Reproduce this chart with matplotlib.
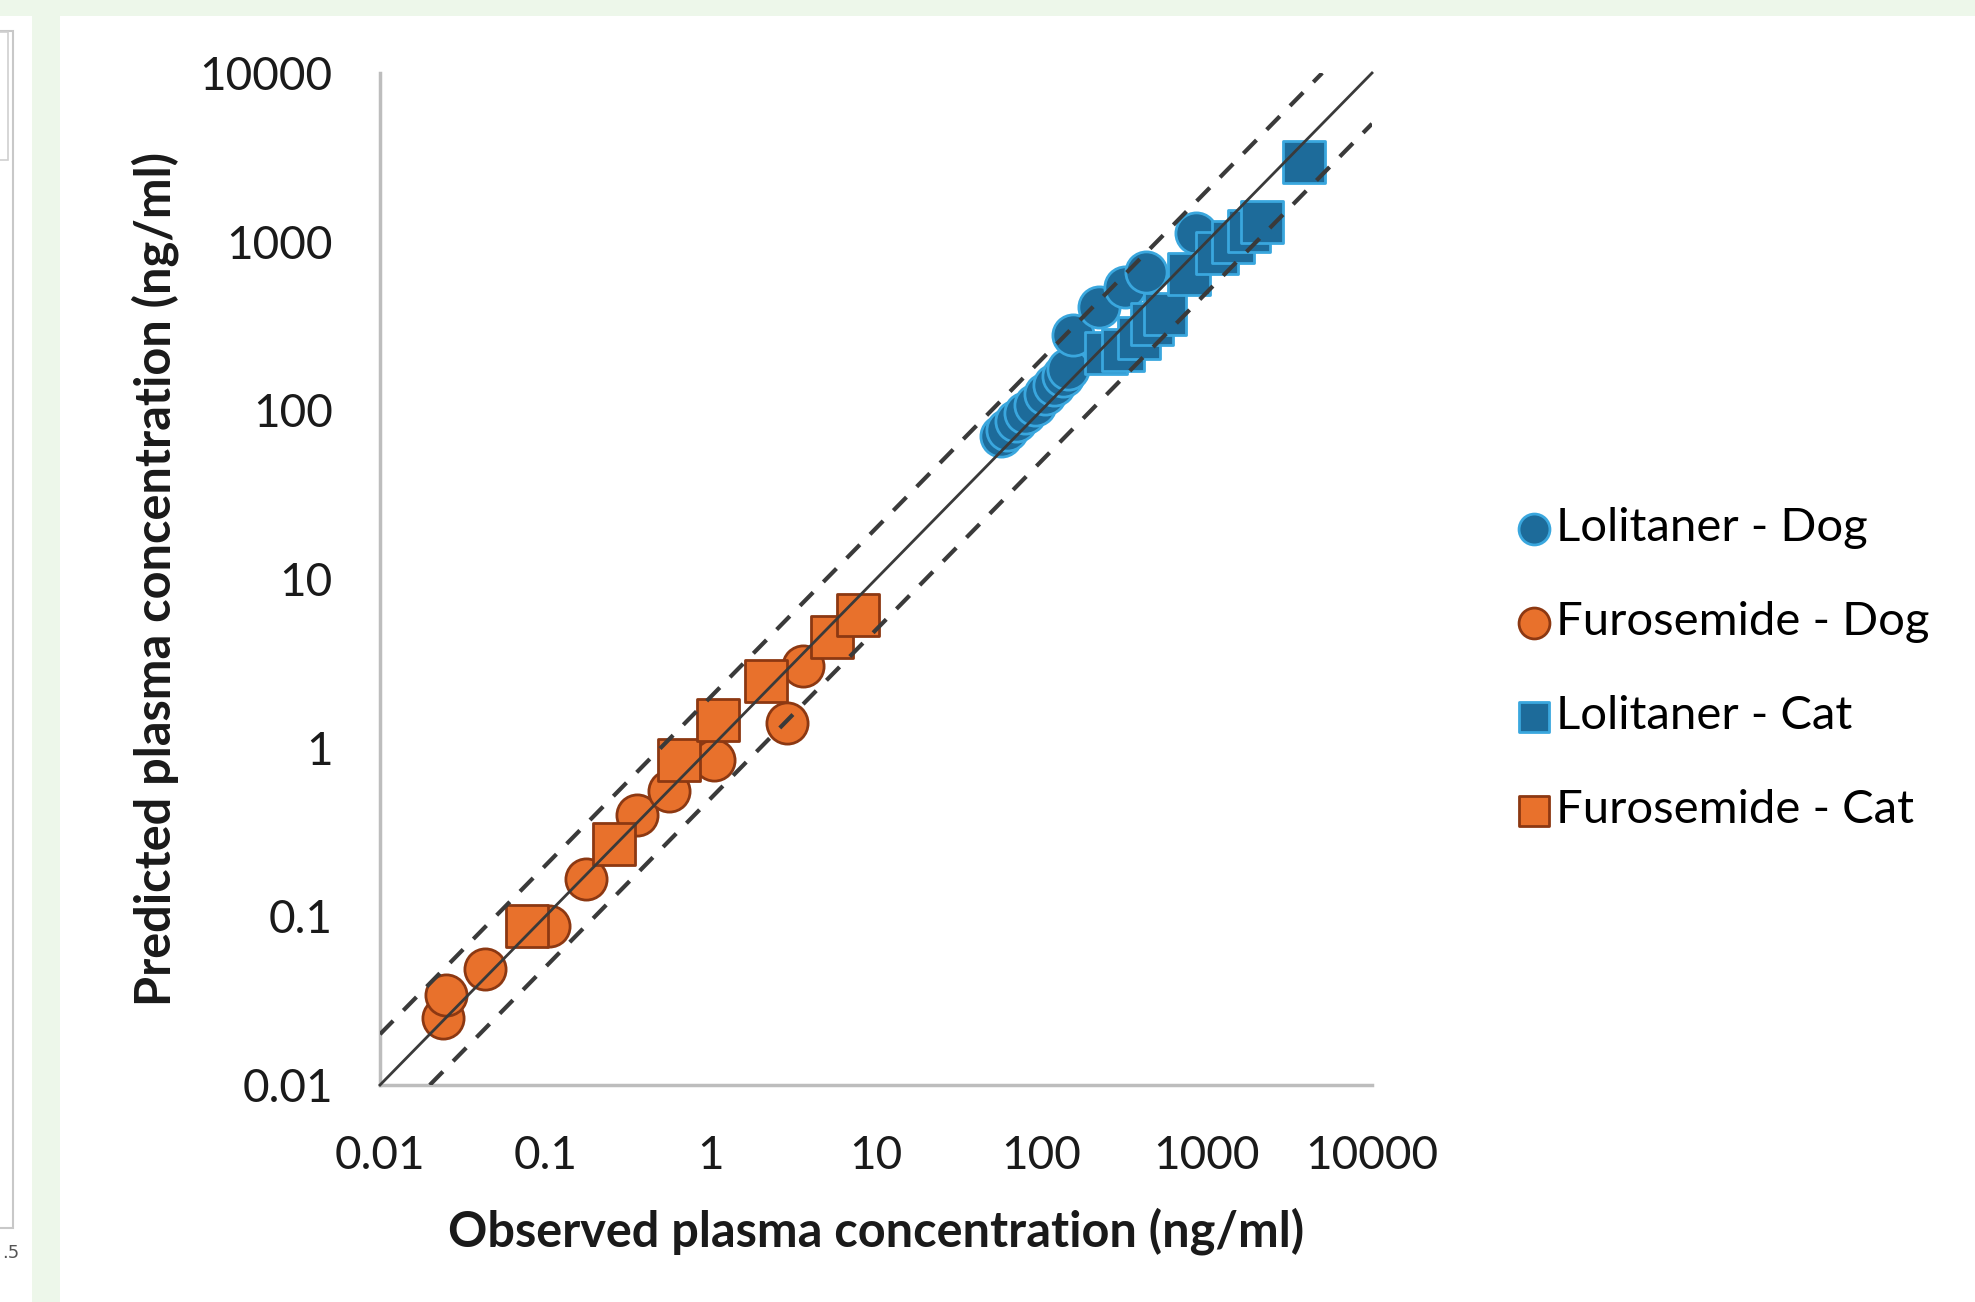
import numpy as np
import matplotlib.pyplot as plt
from matplotlib.patches import Rectangle

# --- data (ng/ml) ---
furo_dog_obs = [0.024, 0.025, 0.043, 0.105, 0.175, 0.36, 0.56, 1.05, 2.9, 3.6]
furo_dog_pred = [0.025, 0.034, 0.049, 0.088, 0.167, 0.40, 0.555, 0.84, 1.40, 3.05]

furo_cat_obs = [0.077, 0.26, 0.64, 1.1, 2.15, 5.4, 7.8]
furo_cat_pred = [0.088, 0.27, 0.84, 1.45, 2.5, 4.55, 6.1]

loli_dog_obs = [57, 62, 70, 80, 92, 105, 120, 135, 145, 156, 222, 320, 430, 860]
loli_dog_pred = [70, 76, 86, 96, 108, 125, 142, 160, 175, 280, 410, 540, 660, 1130]

loli_cat_obs = [245, 310, 390, 470, 560, 780, 1150, 1450, 1800, 2150, 3900]
loli_cat_pred = [220, 228, 270, 325, 375, 640, 860, 1000, 1150, 1300, 2950]

ticks = [0.01, 0.1, 1, 10, 100, 1000, 10000]
tick_labels = ['0.01', '0.1', '1', '10', '100', '1000', '10000']

W, H = 1975, 1302
fig = plt.figure(figsize=(W / 100, H / 100), dpi=100)
fig.patch.set_facecolor('white')

# page background bits around the chart
green = '#edf7ea'
fig.add_artist(Rectangle((0, 1 - 16 / H), 1, 16 / H, transform=fig.transFigure,
                         facecolor=green, edgecolor='none', zorder=0))
fig.add_artist(Rectangle((32 / W, 0), 28 / W, 1, transform=fig.transFigure,
                         facecolor=green, edgecolor='none', zorder=0))
fig.add_artist(Rectangle((-2 / W, 1 - 1228 / H), 15 / W, 1197 / H, transform=fig.transFigure,
                         facecolor='none', edgecolor='#c8c8c8', lw=1.5, zorder=1))
fig.add_artist(Rectangle((-2 / W, 1 - 160 / H), 10 / W, 128 / H, transform=fig.transFigure,
                         facecolor='none', edgecolor='#d0d0d0', lw=1.2, zorder=1))
fig.text(2 / W, 1 - 1253 / H, '.5', fontsize=13, color='#555555', va='center', ha='left',
         family='DejaVu Sans')

ax = fig.add_axes([380 / W, 1 - 1085 / H, 992 / W, 1012 / H])
ax.set_xscale('log')
ax.set_yscale('log')
ax.set_xlim(0.01, 10000)
ax.set_ylim(0.01, 10000)

blue_fill = '#1d6b9a'
blue_edge = '#3aa7de'
orange_fill = '#e8712c'
orange_edge = '#8c3812'
ms = 880

ax.scatter(furo_dog_obs, furo_dog_pred, s=ms, marker='o', facecolor=orange_fill,
           edgecolor=orange_edge, linewidth=2, zorder=2, label='Furosemide - Dog')
ax.scatter(loli_dog_obs, loli_dog_pred, s=ms, marker='o', facecolor=blue_fill,
           edgecolor=blue_edge, linewidth=2, zorder=2, label='Lolitaner - Dog')
ax.scatter(furo_cat_obs, furo_cat_pred, s=ms, marker='s', facecolor=orange_fill,
           edgecolor=orange_edge, linewidth=2, zorder=3, label='Furosemide - Cat')
ax.scatter(loli_cat_obs, loli_cat_pred, s=ms, marker='s', facecolor=blue_fill,
           edgecolor=blue_edge, linewidth=2, zorder=3, label='Lolitaner - Cat')

# line of unity and 2-fold limits
ax.plot([0.01, 10000], [0.01, 10000], color='#3a3a3a', lw=2, zorder=5, clip_on=False)
ax.plot([0.01, 5000], [0.02, 10000], color='#3a3a3a', lw=3, ls=(0, (4.5, 3.5)), zorder=5)
ax.plot([0.02, 10000], [0.01, 5000], color='#3a3a3a', lw=3, ls=(0, (4.5, 3.5)), zorder=5)

for side in ['top', 'right']:
    ax.spines[side].set_visible(False)
for side in ['left', 'bottom']:
    ax.spines[side].set_color('#bdbdbd')
    ax.spines[side].set_linewidth(2.5)

ax.set_xticks(ticks)
ax.set_xticklabels(tick_labels)
ax.set_yticks(ticks)
ax.set_yticklabels(tick_labels)
ax.minorticks_off()
ax.tick_params(length=0, labelsize=33, colors='#1a1a1a')
ax.tick_params(axis='y', pad=34)
ax.tick_params(axis='x', pad=36)
for lab in ax.get_xticklabels() + ax.get_yticklabels():
    lab.set_family('Lato')

ax.set_xlabel('Observed plasma concentration (ng/ml)', fontsize=35, fontweight='bold',
              family='Lato', labelpad=22, color='#1a1a1a')
ax.set_ylabel('Predicted plasma concentration (ng/ml)', fontsize=35, fontweight='bold',
              family='Lato', labelpad=15, color='#1a1a1a')

handles, labels = ax.get_legend_handles_labels()
order = [1, 0, 3, 2]
leg = fig.legend([handles[i] for i in order], [labels[i] for i in order],
                 loc='center left', bbox_to_anchor=(1489 / W, 1 - 669 / H), frameon=False,
                 prop={'family': 'Lato', 'size': 34}, handletextpad=0.02,
                 labelspacing=1.1, markerscale=0.75, handlelength=0.9, borderpad=0)

fig.savefig('out.png', dpi=100)
